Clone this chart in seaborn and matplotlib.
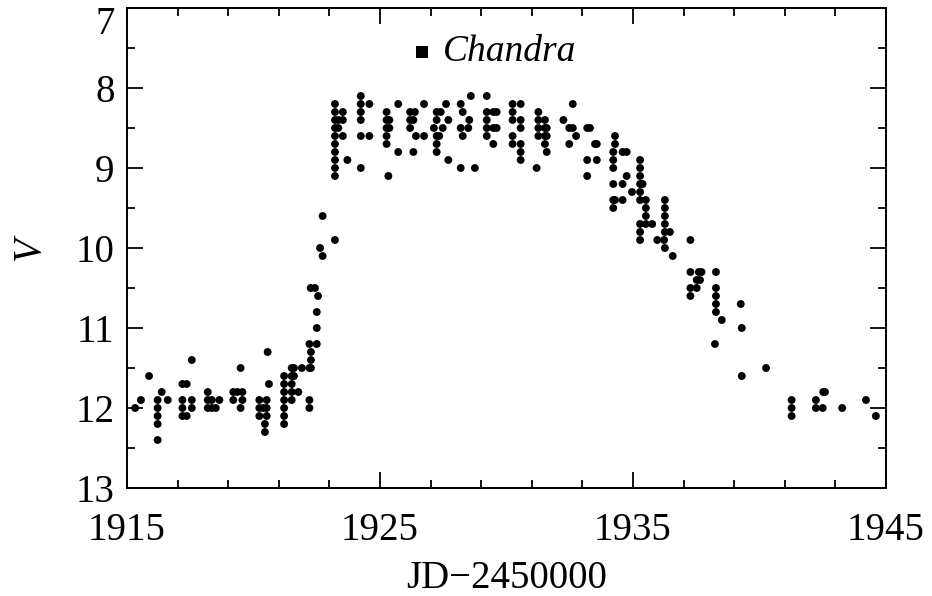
import matplotlib
matplotlib.use("Agg")
import matplotlib.pyplot as plt
import matplotlib.transforms as mtransforms
import seaborn as sns
import pandas as pd

# Nightly V-band estimates: (JD - 2450000, [magnitudes observed that night])
quiescence = [
    (1915.32, [12.0]), (1915.55, [11.9]), (1915.87, [11.6]),
    (1916.21, [11.9, 12.0, 12.1, 12.2, 12.4]), (1916.37, [11.8]), (1916.61, [11.9]),
    (1917.19, [11.7, 11.9, 12.0, 12.1]), (1917.36, [11.7, 12.1]),
    (1917.56, [11.4, 11.9, 12.0]),
    (1918.19, [11.8, 11.9, 12.0]), (1918.35, [11.9, 12.0]), (1918.51, [12.0]),
    (1918.65, [11.9]),
    (1919.20, [11.8, 11.9]), (1919.36, [11.8]), (1919.49, [11.5, 12.0]),
    (1919.56, [11.8, 11.9]),
    (1920.23, [11.9, 12.0, 12.1]), (1920.39, [12.0]), (1920.52, [11.9, 12.0, 12.1]),
    (1920.45, [12.2, 12.3]), (1920.56, [11.3]), (1920.61, [11.7]),
    (1921.21, [11.6, 11.7, 11.8, 11.9, 12.0, 12.1, 12.2]),
    (1921.51, [11.5, 11.6, 11.7, 11.8, 11.9]), (1921.60, [11.5, 11.6]),
    (1921.77, [11.8]), (1921.91, [11.5]),
]

rise = [
    (1922.21, [11.2, 11.5, 11.9, 12.0]), (1922.27, [11.3, 11.4, 11.5]),
    (1922.26, [10.5]), (1922.43, [10.5]), (1922.50, [10.8, 11.0, 11.2]),
    (1922.55, [10.6]), (1922.63, [10.0]), (1922.73, [9.6, 10.1]),
    (1923.22, [9.9]),
]

plateau = [
    (1923.22, [8.2, 8.3, 8.4, 8.5, 8.6, 8.7, 8.8, 8.9, 9.0, 9.1]),
    (1923.35, [8.4, 8.5]), (1923.53, [8.3, 8.4, 8.6]), (1923.71, [8.9]),
    (1924.24, [8.1, 8.2, 8.3, 8.4, 8.6, 9.0]), (1924.58, [8.2, 8.6]),
    (1925.26, [8.3, 8.4, 8.5, 8.6, 8.7]), (1925.33, [9.1]), (1925.37, [8.4, 8.5]),
    (1925.72, [8.2, 8.8]),
    (1926.19, [8.3, 8.4, 8.5]), (1926.32, [8.4, 8.8]), (1926.38, [8.3]),
    (1926.42, [8.6]), (1926.74, [8.2, 8.6]),
    (1927.13, [8.5]), (1927.24, [8.3, 8.4, 8.6, 8.7, 8.8]), (1927.34, [8.6]),
    (1927.40, [8.3]), (1927.48, [8.5]), (1927.61, [8.2]), (1927.70, [8.4, 8.9]),
    (1928.19, [8.2, 8.5, 9.0]), (1928.27, [8.3, 8.6]), (1928.49, [8.5]),
    (1928.53, [8.4]), (1928.59, [8.1]), (1928.75, [9.0]),
    (1929.22, [8.1, 8.3, 8.4, 8.5, 8.6]), (1929.48, [8.3, 8.5, 8.7]),
    (1929.61, [8.3, 8.5]),
    (1930.24, [8.2, 8.3, 8.4, 8.6, 8.7]), (1930.56, [8.2, 8.4, 8.5, 8.7, 8.8, 8.9]),
    (1931.19, [9.0]), (1931.26, [8.3, 8.4, 8.5, 8.6]),
    (1931.52, [8.4, 8.5, 8.6, 8.7]), (1931.59, [8.5, 8.6, 8.8]),
    (1932.25, [8.4]), (1932.48, [8.5, 8.7]), (1932.62, [8.2, 8.5]), (1932.75, [8.6]),
    (1933.19, [8.5, 8.9, 9.1]), (1933.30, [8.5]), (1933.50, [8.7]),
    (1933.57, [8.7, 8.9]),
]

decline = [
    (1934.22, [8.8, 8.9, 9.0, 9.2, 9.4, 9.5]), (1934.29, [8.6, 8.7, 9.4]),
    (1934.59, [8.8, 9.2, 9.4]), (1934.75, [8.8, 9.1]), (1934.96, [9.3]),
    (1935.28, [8.9, 9.0, 9.1, 9.2, 9.3, 9.4, 9.7, 9.8, 9.9]), (1935.38, [9.2]),
    (1935.51, [9.4, 9.5, 9.6, 9.7]), (1935.76, [9.7]), (1935.96, [9.9]),
    (1936.26, [9.4, 9.5, 9.6, 9.7, 9.8, 10.0]), (1936.23, [9.9]),
    (1936.46, [9.8]), (1936.57, [10.1]),
    (1937.27, [9.9, 10.3, 10.5, 10.6]), (1937.52, [10.4, 10.5]),
    (1937.60, [10.3]), (1937.65, [10.4]), (1937.71, [10.3]),
    (1938.24, [11.2]), (1938.28, [10.3, 10.5, 10.6, 10.7, 10.8]), (1938.51, [10.9]),
    (1939.26, [10.7]), (1939.30, [11.0, 11.6]),
    (1940.26, [11.5]),
]

tail = [
    (1941.27, [11.9, 12.0, 12.1]),
    (1942.23, [11.9, 12.0]), (1942.50, [12.0]), (1942.52, [11.8]), (1942.59, [11.8]),
    (1943.27, [12.0]),
    (1944.21, [11.9]), (1944.60, [12.1]),
]

# Chandra observation epoch
chandra_jd = 1926.65
chandra_mag = 7.55

x_ticks = [1915, 1925, 1935, 1945]
y_ticks = [7, 8, 9, 10, 11, 12, 13]

rows = []
for phase in (quiescence, rise, plateau, decline, tail):
    for jd, mags in phase:
        for m in mags:
            rows.append({"JD": jd, "V": m})
df = pd.DataFrame(rows)

sns.set_theme(style="ticks")
plt.rcParams["font.family"] = ["Liberation Serif", "DejaVu Serif"]
plt.rcParams["text.color"] = "black"
plt.rcParams["axes.labelcolor"] = "black"

fig = plt.figure(figsize=(9.32, 5.96), dpi=100)
fig.patch.set_facecolor("white")
ax = fig.add_axes([0.1363, 0.1812, 0.8143, 0.8054])
ax.set_facecolor("white")

sns.scatterplot(data=df, x="JD", y="V", ax=ax, color="black", s=32,
                edgecolor="none", linewidth=0, legend=False)

ax.scatter([chandra_jd], [chandra_mag], marker="s", s=70, color="black",
           edgecolor="none")
ax.annotate("Chandra", (chandra_jd, chandra_mag), xytext=(15, 0),
            textcoords="offset points", va="center", ha="left",
            fontsize=27, style="italic", color="black")

ax.set_xlim(1915, 1945)
ax.set_ylim(13, 7)
ax.set_xticks(x_ticks)
ax.set_xticks(range(1915, 1946, 2), minor=True)
ax.set_yticks(y_ticks)
ax.set_yticks([7 + 0.5 * i for i in range(13)], minor=True)

for side in ("left", "right", "top", "bottom"):
    ax.spines[side].set_linewidth(1.4)
    ax.spines[side].set_color("black")

ax.tick_params(which="both", direction="in", top=True, right=True,
               width=1.3, color="black", labelcolor="black", labelsize=28)
ax.tick_params(which="major", length=11.5)
ax.tick_params(which="minor", length=5.5)
ax.tick_params(axis="x", which="major", pad=17)
ax.tick_params(axis="y", which="major", pad=9)

# keep the topmost magnitude label inside the canvas
top_label = ax.get_yticklabels()[0]
top_label.set_transform(top_label.get_transform()
                        + mtransforms.ScaledTranslation(0, -0.12, fig.dpi_scale_trans))

ax.set_xlabel("JD\u22122450000", fontsize=28, labelpad=8, color="black")
ax.set_ylabel("V", fontsize=28, style="italic", labelpad=20, color="black")

fig.savefig("out.png", dpi=100, facecolor="white")
